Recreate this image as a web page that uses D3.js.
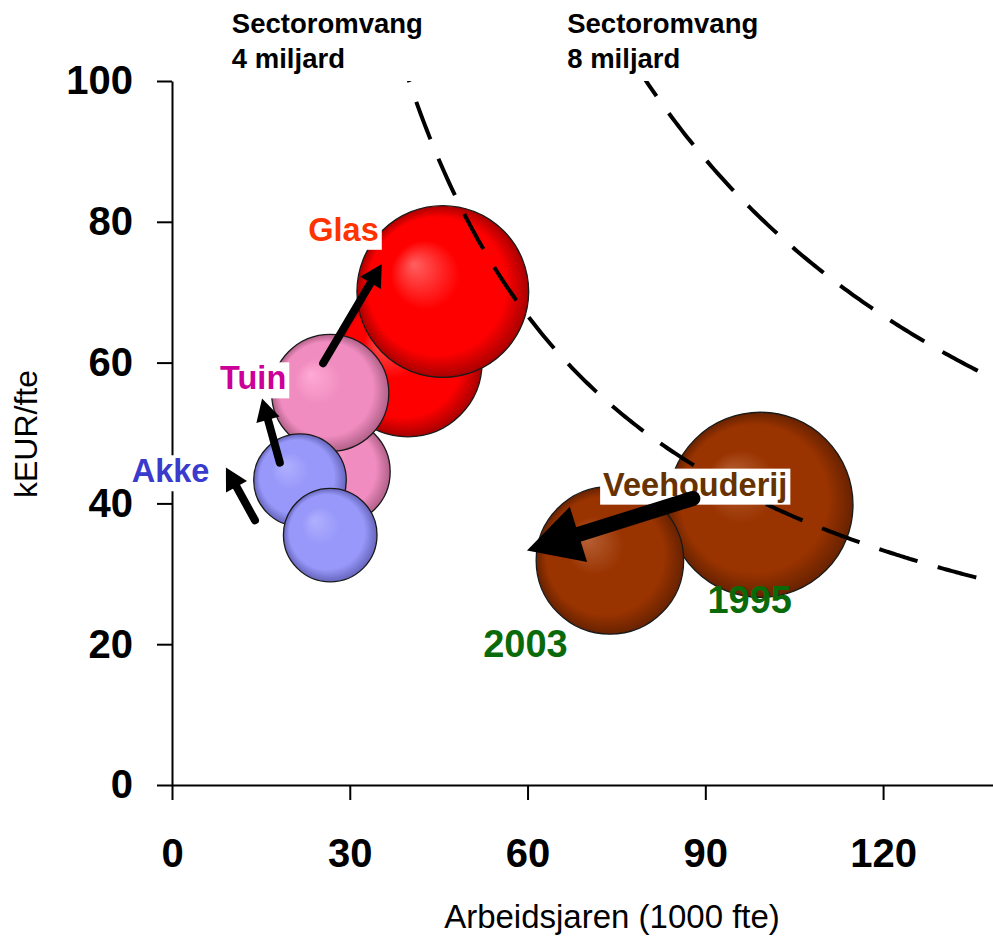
<!DOCTYPE html>
<html>
<head>
<meta charset="utf-8">
<script src="https://cdn.jsdelivr.net/npm/d3@7"></script>
<style>
  html, body { margin: 0; padding: 0; background: #ffffff; }
  svg { display: block; font-family: "Liberation Sans", Arial, Helvetica, sans-serif; }
</style>
</head>
<body>
<svg id="chart" width="993" height="937"></svg>
<script>
// ---- Data -------------------------------------------------------------
// Bubbles in drawing order (later ones lie on top)
const bubbleSector = ["Glas", "Glas", "Tuin", "Tuin", "Akke", "Akke", "Veehouderij", "Veehouderij"];
const bubbleYear   = [1995, 2003, 1995, 2003, 2003, 1995, 1995, 2003];
const arbeidsjaren = [39.8, 45.7, 27.8, 26.7, 21.6, 26.7, 99.3, 73.9];   // 1000 fte
const keurPerFte   = [60.0, 70.1, 44.5, 55.7, 43.3, 35.5, 39.8, 31.9];   // kEUR/fte
const omvang       = [2390, 3200, 1240, 1490, 930, 950, 3720, 2360];     // mln EUR (bubble size)

// Iso-lines of sector size (miljard EUR)
const isoOmvang = [4, 8];

// Axis ticks
const xTicks = [0, 30, 60, 90, 120];
const yTicks = [0, 20, 40, 60, 80, 100];

// Sector labels, 1995 -> 2003 arrows, year labels (in data units)
const labelText  = ["Glas", "Tuin", "Akke", "Veehouderij"];
const labelX     = [28.95, 13.7, -0.25, 88.3];
const labelY     = [77.3, 56.2, 43.0, 41.1];
const arrowFromX = [25.5, 18.2, 14.0, 87.9];
const arrowFromY = [59.9, 45.8, 37.6, 40.7];
const arrowToX   = [35.4, 15.2, 9.1, 59.9];
const arrowToY   = [74.0, 54.9, 45.1, 33.3];
const yearText   = ["2003", "1995"];
const yearX      = [59.65, 97.5];
const yearY      = [18.2, 24.5];

// ---- Styling ----------------------------------------------------------
const sectorColor = {
  "Glas":        { hi: "#ff6060", base: "#ff0000", edge: "#a80000", text: "#ff3300" },
  "Tuin":        { hi: "#ffaad4", base: "#f08cc0", edge: "#b06088", text: "#cc0099" },
  "Akke":        { hi: "#b0b0ff", base: "#9898fa", edge: "#6666bd", text: "#3a3acc" },
  "Veehouderij": { hi: "#b86238", base: "#993300", edge: "#682200", text: "#663300" }
};

// ---- Scales -----------------------------------------------------------
const svg = d3.select("#chart");
const x = d3.scaleLinear().domain([0, 140]).range([172, 1001.6]);
const y = d3.scaleLinear().domain([0, 100]).range([785, 81]);
const r = d3.scaleSqrt().domain([0, 4000]).range([0, 96]);

svg.append("rect").attr("width", 993).attr("height", 937).attr("fill", "#ffffff");

// Gradients for the shaded bubbles
const defs = svg.append("defs");
Object.keys(sectorColor).forEach((s, i) => {
  const c = sectorColor[s];
  const g = defs.append("radialGradient")
    .attr("id", "grad" + i)
    .attr("cx", "50%").attr("cy", "50%").attr("r", "50%")
    .attr("fx", "33%").attr("fy", "34%");
  g.append("stop").attr("offset", "0%").attr("stop-color", c.hi);
  g.append("stop").attr("offset", "40%").attr("stop-color", c.base);
  g.append("stop").attr("offset", "80%").attr("stop-color", c.base);
  g.append("stop").attr("offset", "100%").attr("stop-color", c.edge);
});
const gradId = s => "url(#grad" + Object.keys(sectorColor).indexOf(s) + ")";

// ---- Axes -------------------------------------------------------------
const xAxis = svg.append("g")
  .attr("transform", `translate(0,${y(0)})`)
  .call(d3.axisBottom(x).tickValues(xTicks).tickSize(15).tickSizeOuter(0).tickPadding(39));
const yAxis = svg.append("g")
  .attr("transform", `translate(${x(0)},0)`)
  .call(d3.axisLeft(y).tickValues(yTicks).tickSize(15).tickSizeOuter(0).tickPadding(24));

[xAxis, yAxis].forEach(a => {
  a.select(".domain").attr("stroke", "#000").attr("stroke-width", 2);
  a.selectAll(".tick line").attr("stroke", "#000").attr("stroke-width", 2);
  a.selectAll(".tick text")
    .attr("fill", "#000")
    .attr("font-family", "'Liberation Sans', Arial, sans-serif")
    .attr("font-size", 40)
    .attr("font-weight", "bold");
});

// Axis titles
svg.append("text")
  .attr("x", 612).attr("y", 928)
  .attr("text-anchor", "middle")
  .attr("font-size", 33)
  .attr("fill", "#000")
  .text("Arbeidsjaren (1000 fte)");

svg.append("text")
  .attr("transform", "translate(37,434) rotate(-90)")
  .attr("text-anchor", "middle")
  .attr("font-size", 32)
  .attr("fill", "#000")
  .text("kEUR/fte");

// ---- Bubbles ----------------------------------------------------------
const bubbles = bubbleSector.map((s, i) => ({
  sector: s, year: bubbleYear[i], x: arbeidsjaren[i], y: keurPerFte[i], size: omvang[i]
}));

svg.append("g").selectAll("circle")
  .data(bubbles)
  .join("circle")
  .attr("cx", d => x(d.x))
  .attr("cy", d => y(d.y))
  .attr("r", d => r(d.size))
  .attr("fill", d => gradId(d.sector))
  .attr("stroke", "#1a1a1a")
  .attr("stroke-width", 1.3);

// ---- Iso-lines of sector size -----------------------------------------
const plotClip = defs.append("clipPath").attr("id", "plotClip");
plotClip.append("rect").attr("x", x(0)).attr("y", y(100)).attr("width", 993 - x(0)).attr("height", y(0) - y(100));

const isoLine = d3.line().x(d => x(d[0])).y(d => y(d[1])).curve(d3.curveBasis);
isoOmvang.forEach(v => {
  const k = v * 1000;
  const xs = d3.range(k / 100 - 2, 141, 0.5);
  svg.append("path")
    .attr("clip-path", "url(#plotClip)")
    .attr("d", isoLine(xs.map(a => [a, k / a])))
    .attr("fill", "none")
    .attr("stroke", "#000")
    .attr("stroke-width", 4)
    .attr("stroke-dasharray", "40,21");
});

// Headers naming the iso-lines
const headerX = [10.1, 66.7];
isoOmvang.forEach((v, i) => {
  const t = svg.append("text")
    .attr("x", x(headerX[i]))
    .attr("y", 33)
    .attr("font-size", 27.5)
    .attr("font-weight", "bold")
    .attr("fill", "#000");
  t.append("tspan").attr("x", x(headerX[i])).attr("dy", 0).text("Sectoromvang");
  t.append("tspan").attr("x", x(headerX[i])).attr("dy", 35).text(v + " miljard");
});

// ---- Sector labels with white backgrounds -----------------------------
const labelLayer = svg.append("g");
labelText.forEach((txt, i) => {
  const g = labelLayer.append("g");
  const t = g.append("text")
    .attr("x", x(labelX[i]))
    .attr("y", y(labelY[i]))
    .attr("text-anchor", "middle")
    .attr("font-size", 32.5)
    .attr("font-weight", "bold")
    .attr("fill", sectorColor[txt].text)
    .text(txt);
  const bb = t.node().getBBox();
  g.insert("rect", "text")
    .attr("x", bb.x - 3).attr("y", bb.y + 2)
    .attr("width", bb.width + 6).attr("height", bb.height)
    .attr("fill", "#ffffff");
});

// ---- Arrows (1995 -> 2003) --------------------------------------------
const arrowLayer = svg.append("g");
labelText.forEach((txt, i) => {
  const x0 = x(arrowFromX[i]), y0 = y(arrowFromY[i]);
  const x1 = x(arrowToX[i]),   y1 = y(arrowToY[i]);
  const big = txt === "Veehouderij";
  const shaft = big ? 15 : 8;
  const headLen = big ? 54 : 22;
  const headHalf = big ? 29 : 12;
  const dx = x1 - x0, dy = y1 - y0, len = Math.hypot(dx, dy);
  const ux = dx / len, uy = dy / len;
  const bx = x1 - ux * headLen, by = y1 - uy * headLen;
  arrowLayer.append("line")
    .attr("x1", x0).attr("y1", y0)
    .attr("x2", bx + ux * 2).attr("y2", by + uy * 2)
    .attr("stroke", "#000").attr("stroke-width", shaft)
    .attr("stroke-linecap", "round");
  arrowLayer.append("path")
    .attr("d", `M${x1},${y1}L${bx - uy * headHalf},${by + ux * headHalf}L${bx + uy * headHalf},${by - ux * headHalf}Z`)
    .attr("fill", "#000");
});

// ---- Year labels ------------------------------------------------------
yearText.forEach((t, i) => {
  svg.append("text")
    .attr("x", x(yearX[i]))
    .attr("y", y(yearY[i]))
    .attr("text-anchor", "middle")
    .attr("font-size", 38)
    .attr("font-weight", "bold")
    .attr("fill", "#0a6a0a")
    .text(t);
});
</script>
</body>
</html>
